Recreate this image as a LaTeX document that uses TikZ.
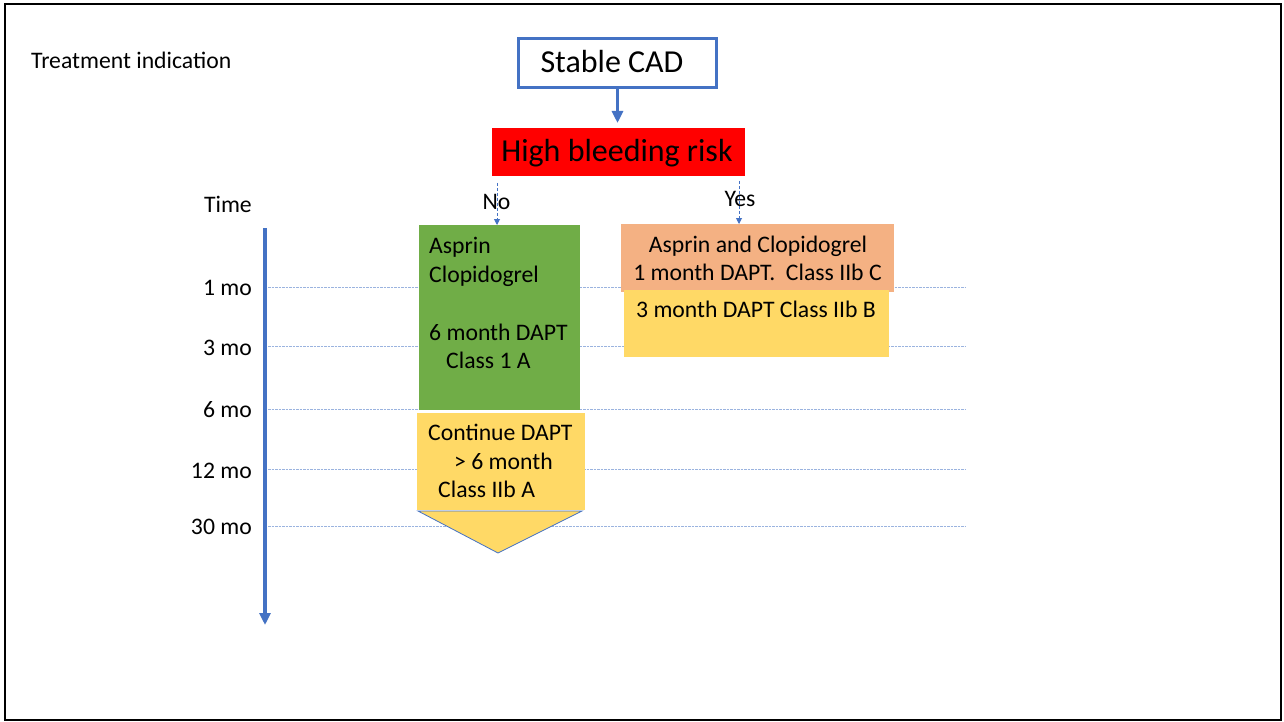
\documentclass[tikz,border=0pt]{standalone}
\usepackage{fontspec}
\setmainfont{Carlito}
\usetikzlibrary{arrows.meta}
\definecolor{cblue}{HTML}{4472C4}
\definecolor{cred}{HTML}{FF0000}
\definecolor{cgreen}{HTML}{70AD47}
\definecolor{cyellow}{HTML}{FFD966}
\definecolor{corange}{HTML}{F4B183}
\definecolor{clight}{HTML}{9AB3DF}
\begin{document}
\begin{tikzpicture}[x=1pt,y=-1pt,
  txt/.style={font=\fontsize{23.7}{28}\selectfont, inner sep=0},
  bigtxt/.style={font=\fontsize{32}{38}\selectfont, inner sep=0},
  panel/.style={inner sep=0, anchor=north west, draw=none},
  grid/.style={clight, line width=0.9pt, dash pattern=on 2.5pt off 1pt},
  dasharrow/.style={cblue, line width=0.9pt, dash pattern=on 3pt off 2pt, -{Triangle[length=6pt,width=6pt]}},
  thickarrow/.style={cblue, line width=3.5pt, -{Triangle[length=12pt,width=11pt]}}]
\useasboundingbox (0,0) rectangle (1284,722);
\fill[white] (0,0) rectangle (1284,722);
\draw[black, line width=2.5pt] (5,4) rectangle (1281,720);

% time grid lines
\coordinate (g1a) at (268,287); \coordinate (g1b) at (965,287);
\coordinate (g2a) at (268,346); \coordinate (g2b) at (965,346);
\coordinate (g3a) at (268,409); \coordinate (g3b) at (965,409);
\coordinate (g4a) at (268,469); \coordinate (g4b) at (965,469);
\coordinate (g5a) at (268,526); \coordinate (g5b) at (965,526);
\foreach \i in {1,...,5} \draw[grid] (g\i a) -- (g\i b);

% title
\node[txt, anchor=base west] (ti) at (31,69) {Treatment indication};

% top boxes
\node[panel, draw=cblue, line width=3pt, minimum width=198, minimum height=49] (cad) at (517,37) {};
\node[bigtxt, anchor=base] (cadt) at (612,73) {Stable CAD};
\node[panel, fill=cred, minimum width=253, minimum height=48] (hbr) at (492,128) {};
\node[bigtxt, anchor=base] (hbrt) at (617,162) {High bleeding risk};
\draw[thickarrow] (cad.south) -- (cad.south |- hbr.north) [shorten >=5pt];

% treatment panels
\node[panel, fill=cgreen, minimum width=161, minimum height=185] (green) at (419,225) {};
\node[panel, fill=cyellow, minimum width=168, minimum height=97] (cont) at (417,413) {};
\node[panel, fill=corange, minimum width=273, minimum height=68] (orange) at (621,224) {};
\node[panel, fill=cyellow, minimum width=265, minimum height=67] (three) at (624,290) {};
\draw[cblue, line width=0.8pt, fill=cyellow] (418,511) -- (582,511) -- (498,553) -- cycle;

% texts in panels
\node[txt, anchor=base west] (g1) at (429,253) {Asprin};
\node[txt, anchor=base west] (g2) at (429,282) {Clopidogrel};
\node[txt, anchor=base west] (g3) at (429,340) {6 month DAPT};
\node[txt, anchor=base west] (g4) at (446,368) {Class 1 A};
\node[txt, anchor=base west] (c1) at (428,440) {Continue DAPT};
\node[txt, anchor=base west] (c2) at (454,469) {> 6 month};
\node[txt, anchor=base west] (c3) at (438,497) {Class IIb A};
\node[txt, anchor=base] (o1) at (758,252) {Asprin and Clopidogrel};
\node[txt, anchor=base] (o2) at (757.5,280) {1 month DAPT.\ \ Class IIb C};
\node[txt, anchor=base] (y1) at (756,317) {3 month DAPT Class IIb B};

% decision branches
\coordinate (nos) at (497,183);
\coordinate (yess) at (739,181);
\draw[dasharrow] (nos) -- (nos |- green.north);
\draw[dasharrow] (yess) -- (yess |- orange.north);
\node[txt, anchor=base] (no) at (496.5,209) {No};
\node[txt, anchor=base] (yes) at (740,207) {Yes};

% time axis
\coordinate (ta) at (265,228);
\coordinate (tb) at (265,625);
\draw[thickarrow] (ta) -- (tb);
\node[txt, anchor=base east] (time) at (252,212) {Time};
\node[txt, anchor=base east] (m1) at (252,295) {1 mo};
\node[txt, anchor=base east] (m3) at (252,355) {3 mo};
\node[txt, anchor=base east] (m6) at (252,417) {6 mo};
\node[txt, anchor=base east] (m12) at (252,478) {12 mo};
\node[txt, anchor=base east] (m30) at (252,534) {30 mo};
\end{tikzpicture}
\end{document}
